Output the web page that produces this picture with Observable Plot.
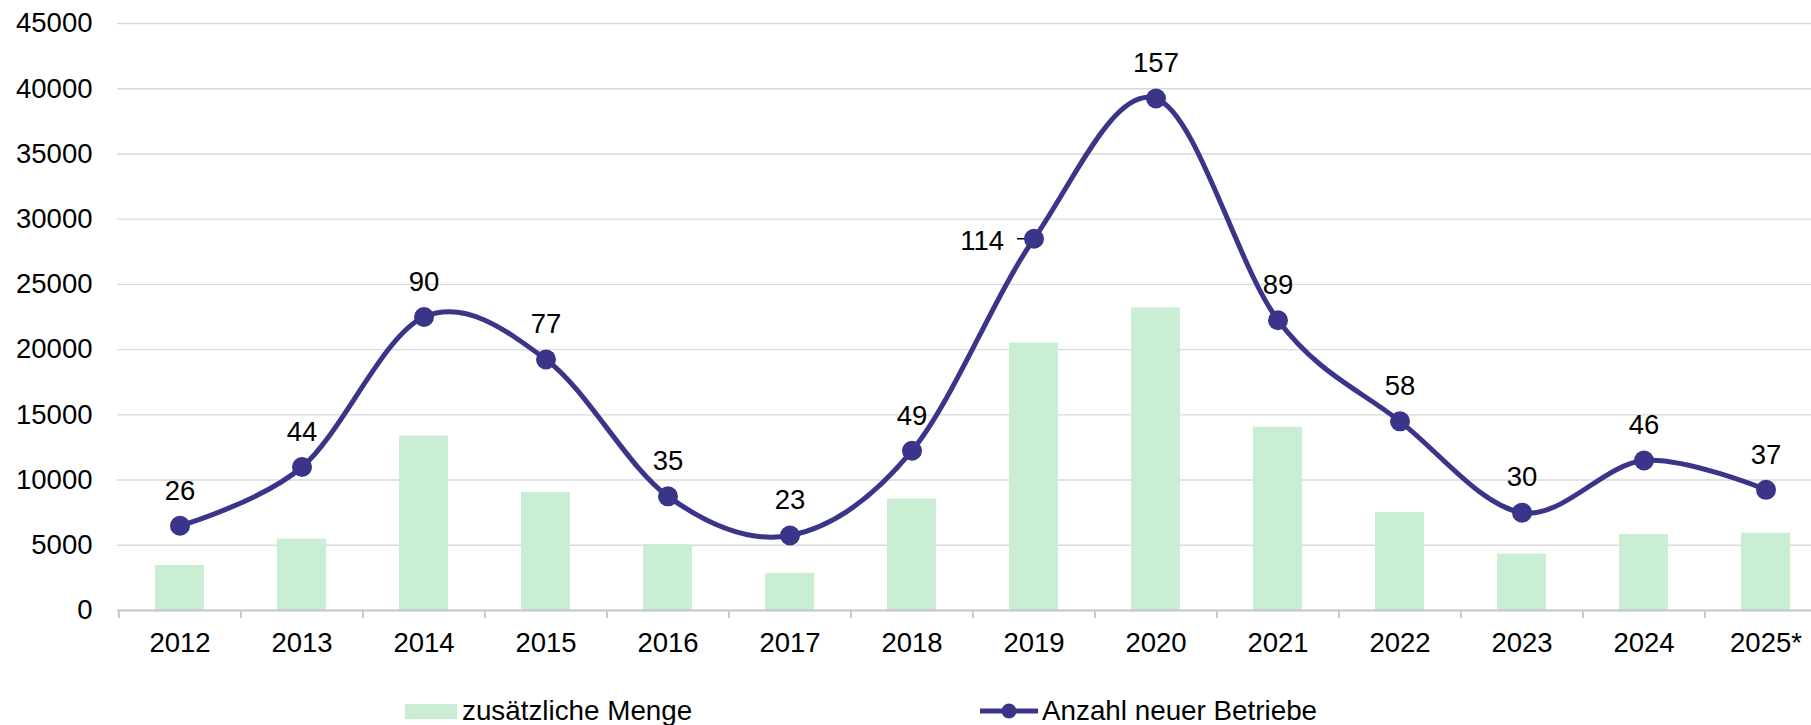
<!DOCTYPE html>
<html>
<head>
<meta charset="utf-8">
<script src="https://cdn.jsdelivr.net/npm/d3@7"></script>
<script src="https://cdn.jsdelivr.net/npm/@observablehq/plot@0.6"></script>
<style>
  html, body { margin: 0; padding: 0; background: #fff; overflow: hidden; }
  #chart { width: 1811px; }
  .legend { position: relative; width: 1811px; height: 30px; font-family: "Liberation Sans", Arial, sans-serif; font-size: 27.8px; line-height: 27px; color: #000; }
  .legend .sw { position: absolute; left: 405px; top: 9px; width: 52px; height: 15px; background: #caeed3; }
  .legend .t1 { position: absolute; left: 462px; top: 2px; white-space: nowrap; }
  .legend .mk { position: absolute; left: 978px; top: 6px; }
  .legend .t2 { position: absolute; left: 1042px; top: 2px; white-space: nowrap; }
</style>
</head>
<body>
<div id="chart"></div>
<div class="legend">
  <div class="sw"></div><div class="t1">zusätzliche Menge</div>
  <svg class="mk" width="62" height="20"><line x1="2" y1="10" x2="60" y2="10" stroke="#3a3589" stroke-width="5"/><circle cx="31" cy="10" r="7.5" fill="#3a3589"/></svg>
  <div class="t2">Anzahl neuer Betriebe</div>
</div>
<script>
// ---- data ----
const years = ["2012","2013","2014","2015","2016","2017","2018","2019","2020","2021","2022","2023","2024","2025*"];
const zusaetzlicheMenge = [3450, 5470, 13380, 9050, 5050, 2850, 8550, 20500, 23200, 14050, 7520, 4320, 5830, 5930];
const neueBetriebe = [26, 44, 90, 77, 35, 23, 49, 114, 157, 89, 58, 30, 46, 37];
const yTicks = [0, 5000, 10000, 15000, 20000, 25000, 30000, 35000, 40000, 45000];
const yMax = 45000;      // primary axis maximum
const y2Max = 180;       // hidden secondary axis maximum (Anzahl neuer Betriebe)

// ---- build ----
const rows = years.map((year, i) => ({year, menge: zusaetzlicheMenge[i], betriebe: neueBetriebe[i]}));
const ratio = yMax / y2Max;
const lineColor = "#3a3589";
const barColor = "#caeed3";
const font = "Liberation Sans, Arial, sans-serif";

const W = 1811, H = 695, ML = 117, MR = -17, MT = 23, MB = 85;
const step = (W - ML - MR) / years.length;
const leftLabelled = ["2019"];

const chart = Plot.plot({
  width: W, height: H,
  marginLeft: ML, marginRight: MR, marginTop: MT, marginBottom: MB,
  style: {fontFamily: font, fontSize: "27.5px", color: "#000", background: "#fff", overflow: "hidden"},
  x: {type: "band", domain: years, paddingInner: 0.6, paddingOuter: 0.3},
  y: {domain: [0, yMax]},
  marks: [
    Plot.gridY(yTicks.filter(t => t > 0), {stroke: "#d9d9d9", strokeOpacity: 1, strokeWidth: 1.4}),
    Plot.barY(rows, {x: "year", y: "menge", fill: barColor}),
    Plot.ruleY([0], {stroke: "#c4c4c4", strokeWidth: 2}),
    Plot.ruleX(rows, {x: "year", y1: 0, y2: 0, dx: -step / 2, insetBottom: -8, stroke: "#c4c4c4", strokeWidth: 1.8}),
    Plot.ruleX(rows.slice(-1), {x: "year", y1: 0, y2: 0, dx: step / 2, insetBottom: -8, stroke: "#c4c4c4", strokeWidth: 1.8}),
    Plot.axisY({ticks: yTicks, tickSize: 0, tickPadding: 25, tickFormat: d => String(d), label: null, fontSize: 27.5, fill: "#000"}),
    Plot.axisX({tickSize: 0, tickPadding: 22, label: null, fontSize: 27.5, fill: "#000"}),
    Plot.line(rows, {x: "year", y: d => d.betriebe * ratio, stroke: lineColor, strokeWidth: 5, curve: "cardinal"}),
    Plot.tickY(rows.filter(d => leftLabelled.includes(d.year)), {x: "year", y: d => d.betriebe * ratio, stroke: "#000", strokeWidth: 1.5, insetLeft: 8, insetRight: 26}),
    Plot.dot(rows, {x: "year", y: d => d.betriebe * ratio, r: 10, fill: lineColor}),
    Plot.text(rows.filter(d => !leftLabelled.includes(d.year)), {x: "year", y: d => d.betriebe * ratio, text: d => String(d.betriebe), dy: -35, fontSize: 27.5, fill: "#000"}),
    Plot.text(rows.filter(d => leftLabelled.includes(d.year)), {x: "year", y: d => d.betriebe * ratio, text: d => String(d.betriebe), dx: -30, dy: 2, textAnchor: "end", fontSize: 27.5, fill: "#000"})
  ]
});
document.getElementById("chart").appendChild(chart);
</script>
</body>
</html>
